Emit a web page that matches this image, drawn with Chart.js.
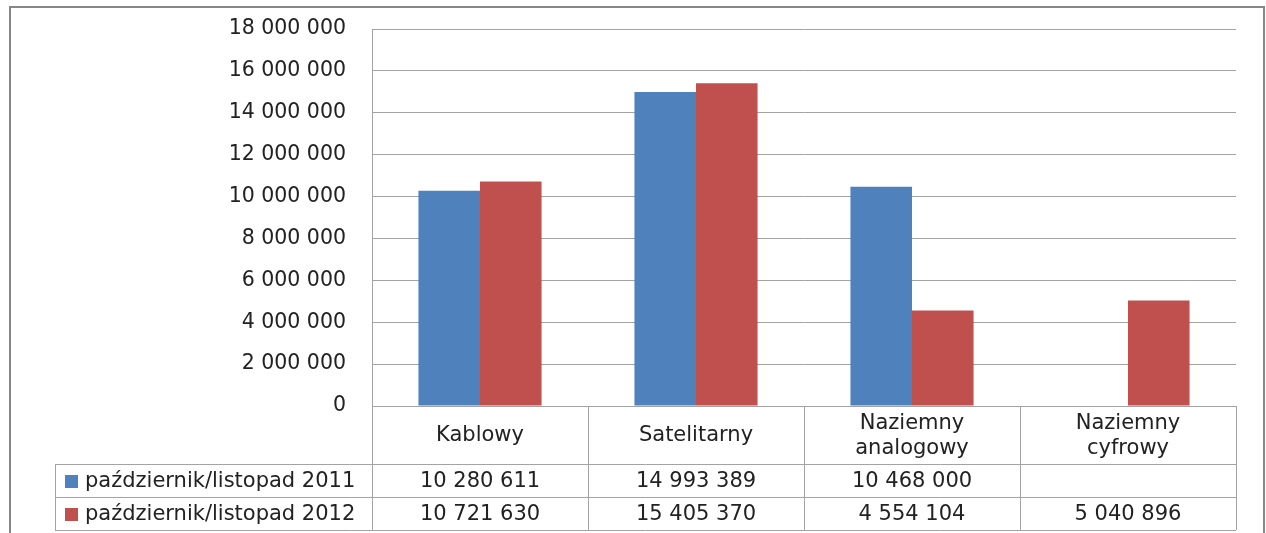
<!DOCTYPE html>
<html>
<head>
<meta charset="utf-8">
<script src="https://cdn.jsdelivr.net/npm/chart.js@4.4.0/dist/chart.umd.min.js"></script>
<style>
    html, body { margin: 0; padding: 0; background: #fff; }
    #wrap { width: 1266px; height: 533px; }
</style>
</head>
<body>
<div id="wrap"><canvas id="chart"></canvas></div>
<script>
// categories (table header cells, may hold two lines)
const categories = [['Kablowy'], ['Satelitarny'], ['Naziemny', 'analogowy'], ['Naziemny', 'cyfrowy']];
const seriesNames = ['październik/listopad 2011', 'październik/listopad 2012'];
const values2011 = [10280611, 14993389, 10468000, null];
const values2012 = [10721630, 15405370, 4554104, 5040896];
const yMax = 18000000;
const yStep = 2000000;

const colors = ['#4F81BD', '#C0504D'];
const FONT = 'DejaVu Sans';
const TEXT = '#222';
const LINE = '#a3a3a3';

function spaced(v) {
    return String(v).replace(/\B(?=(\d{3})+(?!\d))/g, ' ');
}

// outer frame like the office chart box
const framePlugin = {
    id: 'frame',
    beforeDraw(chart) {
        const ctx = chart.ctx;
        ctx.save();
        ctx.fillStyle = '#fff';
        ctx.fillRect(0, 0, chart.width, chart.height);
        ctx.strokeStyle = '#878787';
        ctx.lineWidth = 2;
        ctx.strokeRect(10, 7, 1254, 540);
        ctx.restore();
    }
};

// data table under the plot
const tablePlugin = {
    id: 'dataTable',
    afterDraw(chart) {
        const ctx = chart.ctx;
        const xs = chart.scales.x;
        const area = chart.chartArea;
        const n = categories.length;
        const colW = (area.right - area.left) / n;
        const headTop = area.bottom;
        const headBottom = headTop + 58;
        const rowH = 33;
        const tableLeft = 55;
        const rows = [values2011, values2012];

        ctx.save();
        ctx.strokeStyle = LINE;
        ctx.lineWidth = 1;
        ctx.beginPath();
        // horizontal lines
        for (let r = 0; r <= rows.length; r++) {
            const y = Math.round(headBottom + r * rowH) + 0.5;
            ctx.moveTo(tableLeft, y);
            ctx.lineTo(area.right, y);
        }
        // left edge of legend column
        ctx.moveTo(tableLeft + 0.5, headBottom);
        ctx.lineTo(tableLeft + 0.5, headBottom + rows.length * rowH);
        // column separators
        for (let i = 0; i <= n; i++) {
            const x = Math.round(area.left + i * colW) + 0.5;
            ctx.moveTo(x, headTop);
            ctx.lineTo(x, headBottom + rows.length * rowH);
        }
        ctx.stroke();

        ctx.fillStyle = TEXT;
        ctx.font = '21px "' + FONT + '"';
        ctx.textAlign = 'center';
        ctx.textBaseline = 'middle';

        // header
        categories.forEach((lines, i) => {
            const cx = xs.getPixelForValue(i);
            const cy = (headTop + headBottom) / 2 + 1;
            const lh = 25;
            lines.forEach((t, k) => {
                ctx.fillText(t, cx, cy + (k - (lines.length - 1) / 2) * lh);
            });
        });

        // rows
        rows.forEach((vals, r) => {
            const cy = headBottom + r * rowH + rowH / 2 + 1;
            ctx.fillStyle = colors[r];
            ctx.fillRect(65, Math.round(cy - 6.5), 13, 13);
            ctx.fillStyle = TEXT;
            ctx.textAlign = 'left';
            ctx.fillText(seriesNames[r], 85, cy);
            ctx.textAlign = 'center';
            vals.forEach((v, i) => {
                if (v == null) return;
                ctx.fillText(spaced(v), xs.getPixelForValue(i), cy);
            });
        });
        ctx.restore();
    }
};

new Chart(document.getElementById('chart'), {
    type: 'bar',
    data: {
        labels: categories.map(c => c.join(' ')),
        datasets: [
            { label: seriesNames[0], data: values2011, backgroundColor: colors[0] },
            { label: seriesNames[1], data: values2012, backgroundColor: colors[1] }
        ]
    },
    options: {
        responsive: true,
        maintainAspectRatio: false,
        animation: false,
        layout: { padding: { top: 0, right: 30, left: 0, bottom: 0 } },
        datasets: {
            bar: { barPercentage: 1, categoryPercentage: 0.57 }
        },
        plugins: {
            legend: { display: false },
            tooltip: { enabled: false }
        },
        scales: {
            x: {
                grid: { display: false },
                border: { display: true, color: LINE },
                ticks: { display: false },
                afterFit: s => { s.height = 127; }
            },
            y: {
                min: 0,
                max: yMax,
                grid: { color: LINE, drawTicks: false },
                border: { display: true, color: LINE },
                ticks: {
                    stepSize: yStep,
                    padding: 26,
                    color: TEXT,
                    font: { family: FONT, size: 20.5 },
                    callback: v => spaced(v)
                },
                afterFit: s => { s.width = 372; s.paddingTop = 29; }
            }
        }
    },
    plugins: [framePlugin, tablePlugin]
});
</script>
</body>
</html>
